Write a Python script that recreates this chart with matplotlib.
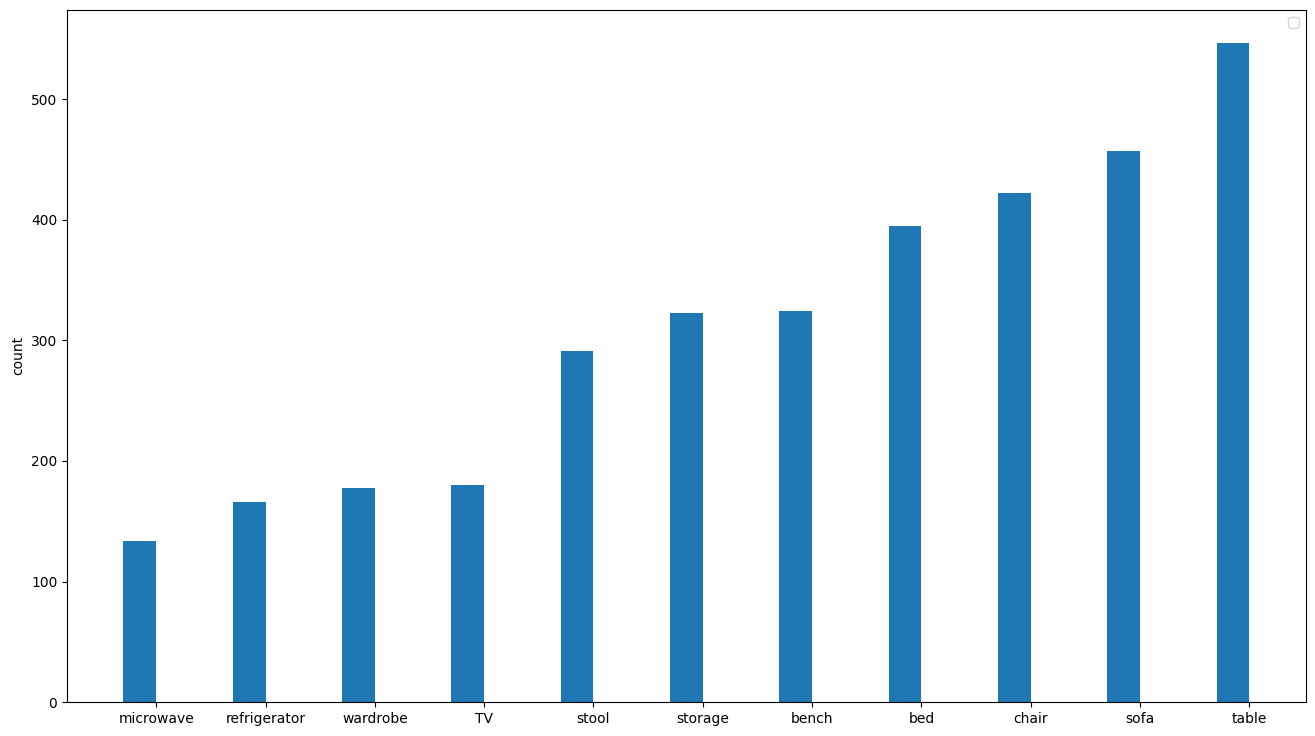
import numpy as np
import matplotlib.pyplot as plt

categories = ["microwave", "refrigerator", "wardrobe", "TV", "stool", "storage",
              "bench", "bed", "chair", "sofa", "table"]
counts = [134, 166, 178, 180, 291, 323, 324, 395, 422, 457, 547]

x = np.arange(len(categories))
width = 0.3

fig, ax = plt.subplots(figsize=(13.15, 7.36), dpi=100)
ax.bar(x - width / 2, counts, width)
ax.set_xticks(x)
ax.set_xticklabels(categories)
ax.set_ylabel("count")
ax.legend()
fig.subplots_adjust(left=0.051, right=0.993, top=0.987, bottom=0.046)
fig.savefig("out.png")
